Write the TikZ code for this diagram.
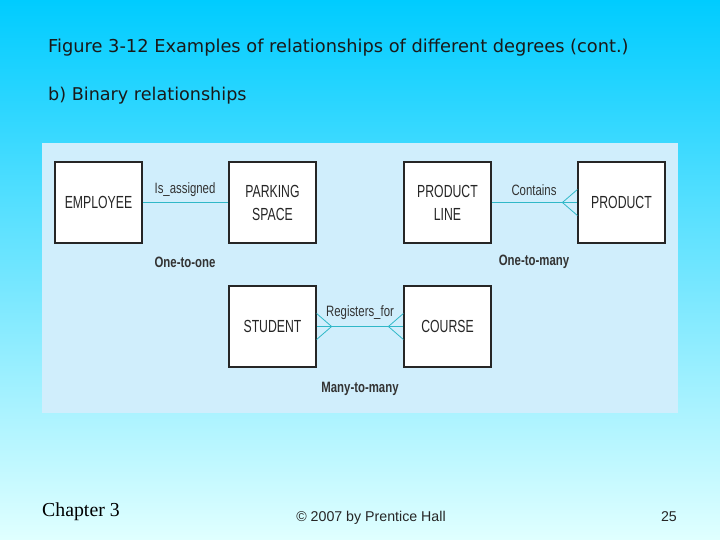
\documentclass[tikz,border=0pt]{standalone}
\usepackage{fontspec}
\setmainfont{DejaVu Sans}
\newfontfamily\boxfont{Liberation Sans}[FakeStretch=0.70]
\newfontfamily\lblfont{Liberation Sans}[FakeStretch=0.76]
\newfontfamily\timesfont{Liberation Serif}
\newfontfamily\arialfont{Liberation Sans}
\begin{document}
\begin{tikzpicture}[x=1pt,y=-1pt,
  ent/.style={draw=black!85,line width=1.2pt,fill=white,minimum width=87pt,minimum height=81pt,inner sep=0pt,align=center,font=\boxfont\fontsize{17.5}{23}\selectfont,text=black!85},
  lbl/.style={font=\lblfont\fontsize{15}{17}\selectfont,text=black!80,inner sep=0pt},
  card/.style={font=\lblfont\bfseries\fontsize{15}{17}\selectfont,text=black!80,inner sep=0pt}]
\definecolor{bgtop}{HTML}{00CCFF}
\definecolor{bgbot}{HTML}{E0FFFF}
\definecolor{paneltop}{HTML}{D0EEFC}
\definecolor{linec}{HTML}{30B8C8}
\tikzset{rel/.style={draw=linec,line width=0.8pt}}
\useasboundingbox (0,0) rectangle (720,540);
\shade[top color=bgtop,bottom color=bgbot] (0,0) rectangle (720,540);
\fill[paneltop] (42,143) rectangle (678,413);
\node[anchor=base west,inner sep=0pt,font=\fontsize{17.8}{20}\selectfont,text=black!90] (title) at (48,53) {Figure 3-12 Examples of relationships of different degrees (cont.)};
\node[anchor=base west,inner sep=0pt,font=\fontsize{17.6}{20}\selectfont,text=black!90] (sub) at (48,101) {b) Binary relationships};
\node[ent] (emp) at (98.5,202.5) {EMPLOYEE};
\node[ent] (park) at (272.5,202.5) {PARKING\\SPACE};
\node[ent] (pline) at (447.5,202.5) {PRODUCT\\LINE};
\node[ent] (prod) at (621.5,202.5) {PRODUCT};
\node[ent] (stu) at (272.5,326.5) {STUDENT};
\node[ent] (crs) at (447.5,326.5) {COURSE};
\draw[rel] (emp.east) -- (park.west);
\draw[rel] (pline.east) -- (prod.west);
\draw[rel] (stu.east) -- (crs.west);
\coordinate (cfp) at ([xshift=-15pt]prod.west);
\draw[rel] ([yshift=-13pt]prod.west) -- (cfp) -- ([yshift=13pt]prod.west);
\coordinate (cfs) at ([xshift=15pt]stu.east);
\draw[rel] ([yshift=-13pt]stu.east) -- (cfs) -- ([yshift=13pt]stu.east);
\coordinate (cfc) at ([xshift=-15pt]crs.west);
\draw[rel] ([yshift=-13pt]crs.west) -- (cfc) -- ([yshift=13pt]crs.west);
\node[lbl] (l1) at (185,190) {Is\_assigned};
\node[lbl] (l2) at (534,190) {Contains};
\node[lbl] (l3) at (360,313) {Registers\_for};
\node[card] (c1) at (185,262) {One-to-one};
\node[card] (c2) at (534,262) {One-to-many};
\node[card] (c3) at (360,389) {Many-to-many};
\node[anchor=base west,inner sep=0pt,font=\timesfont\fontsize{19.8}{22}\selectfont] (chap) at (42,516) {Chapter 3};
\node[anchor=base,inner sep=0pt,font=\arialfont\fontsize{14.2}{16}\selectfont,text=black!85] (copy) at (371,521) {© 2007 by Prentice Hall};
\node[anchor=base east,inner sep=0pt,font=\arialfont\fontsize{14.2}{16}\selectfont,text=black!85] (pg) at (677,521) {25};
\end{tikzpicture}
\end{document}
